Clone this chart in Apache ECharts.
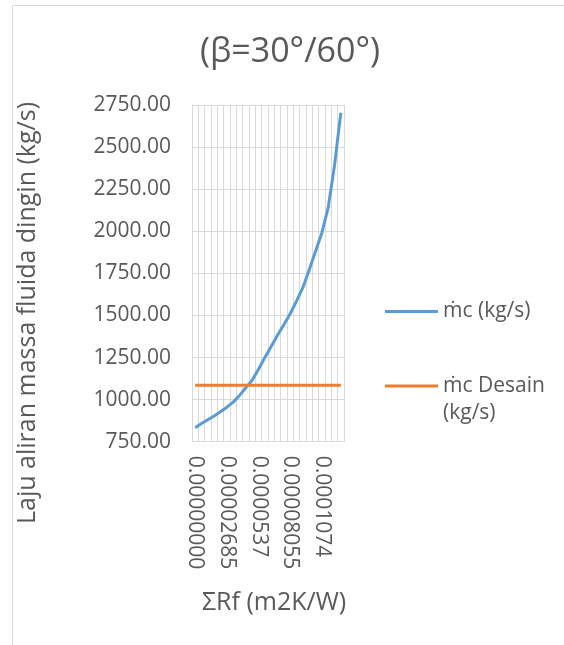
<!DOCTYPE html>
<html>
<head>
<meta charset="utf-8">
<script src="https://cdn.jsdelivr.net/npm/echarts@6/dist/echarts.min.js"></script>
<style>
  html, body { margin: 0; padding: 0; background: #fff; }
  #chart { width: 564px; height: 645px; }
</style>
</head>
<body>
<div id="chart"></div>
<script>
// ΣRf steps (m2K/W)
const categories = [
  '0.00000000', '0.00000537', '0.00001074', '0.00001611', '0.00002148', '0.00002685',
  '0.00003222', '0.00003759', '0.00004296', '0.00004833', '0.0000537', '0.00005907',
  '0.00006444', '0.00006981', '0.00007518', '0.00008055', '0.00008592', '0.00009129',
  '0.00009666', '0.00010203', '0.0001074', '0.00011277', '0.00011814', '0.00012351'
];

// cold fluid mass flow rate (kg/s)
const mcValues = [
  833, 858, 880, 903, 928, 955, 985, 1025, 1070, 1115, 1180, 1250,
  1315, 1382, 1445, 1510, 1585, 1665, 1770, 1880, 1990, 2140, 2390, 2704
];

// design mass flow rate (kg/s)
const mcDesainValues = [
  1085, 1085, 1085, 1085, 1085, 1085, 1085, 1085, 1085, 1085, 1085, 1085,
  1085, 1085, 1085, 1085, 1085, 1085, 1085, 1085, 1085, 1085, 1085, 1085
];

const seriesNames = ['ṁc (kg/s)', 'ṁc Desain (kg/s)'];
const titleText = '(β=30°/60°)';
const xTitle = 'ΣRf (m2K/W)';
const yTitle = 'Laju aliran massa fluida dingin (kg/s)';

const FONT = '"Open Sans", sans-serif';
const TEXT = '#595959';
const GRID = '#d9d9d9';

const chart = echarts.init(document.getElementById('chart'), null, { renderer: 'canvas' });

chart.setOption({
  animation: false,
  backgroundColor: '#ffffff',
  textStyle: { fontFamily: FONT },
  title: {
    text: titleText,
    left: 285,
    top: 30,
    textAlign: 'center',
    textStyle: { fontFamily: FONT, fontSize: 34, fontWeight: 'normal', color: TEXT }
  },
  grid: { left: 192, top: 105, width: 152, height: 336.7, containLabel: false },
  legend: [
    {
      data: [seriesNames[0]],
      left: 385, top: 298, padding: 0,
      icon: 'rect', itemWidth: 53, itemHeight: 3,
      textStyle: { fontFamily: FONT, fontSize: 21, color: TEXT, lineHeight: 27 }
    },
    {
      data: [seriesNames[1]],
      left: 385, top: 345.5, padding: 0,
      icon: 'rect', itemWidth: 53, itemHeight: 3,
      // blank first line keeps the first text line level with the icon
      formatter: function () { return ' \nṁc Desain\n(kg/s)'; },
      textStyle: { fontFamily: FONT, fontSize: 21, color: TEXT, lineHeight: 27 }
    }
  ],
  xAxis: {
    type: 'category',
    data: categories,
    boundaryGap: true,
    axisLine: { show: true, lineStyle: { color: GRID, width: 1 } },
    axisTick: { show: false },
    splitLine: { show: true, interval: 0, lineStyle: { color: GRID, width: 1 } },
    axisLabel: {
      interval: 4,
      rotate: -90,
      margin: 14,
      fontFamily: FONT, fontSize: 21, color: TEXT
    }
  },
  yAxis: {
    type: 'value',
    min: 750, max: 2750, interval: 250,
    axisLine: { show: true, lineStyle: { color: GRID, width: 1 } },
    axisTick: { show: false },
    splitLine: { show: true, lineStyle: { color: GRID, width: 1 } },
    axisLabel: {
      margin: 21,
      fontFamily: FONT, fontSize: 21, color: TEXT,
      formatter: function (v) { return v.toFixed(2); }
    }
  },
  graphic: [
    {
      type: 'rect', silent: true, z: -10,
      shape: { x: 12.5, y: 5.5, width: 600, height: 700 },
      style: { fill: 'none', stroke: GRID, lineWidth: 1 }
    },
    {
      type: 'text', silent: true,
      x: 28, y: 313, rotation: Math.PI / 2,
      style: {
        text: yTitle, fontFamily: FONT, fontSize: 25, fill: TEXT,
        align: 'center', verticalAlign: 'middle'
      }
    },
    {
      type: 'text', silent: true,
      x: 274, y: 603,
      style: {
        text: xTitle, fontFamily: FONT, fontSize: 25, fill: TEXT,
        align: 'center', verticalAlign: 'middle'
      }
    }
  ],
  series: [
    {
      name: seriesNames[0], type: 'line', data: mcValues,
      symbol: 'none', smooth: false,
      itemStyle: { color: '#5b9bd5' },
      lineStyle: { color: '#5b9bd5', width: 3 }
    },
    {
      name: seriesNames[1], type: 'line', data: mcDesainValues,
      symbol: 'none', smooth: false,
      itemStyle: { color: '#ed7d31' },
      lineStyle: { color: '#ed7d31', width: 3 }
    }
  ]
});
</script>
</body>
</html>
